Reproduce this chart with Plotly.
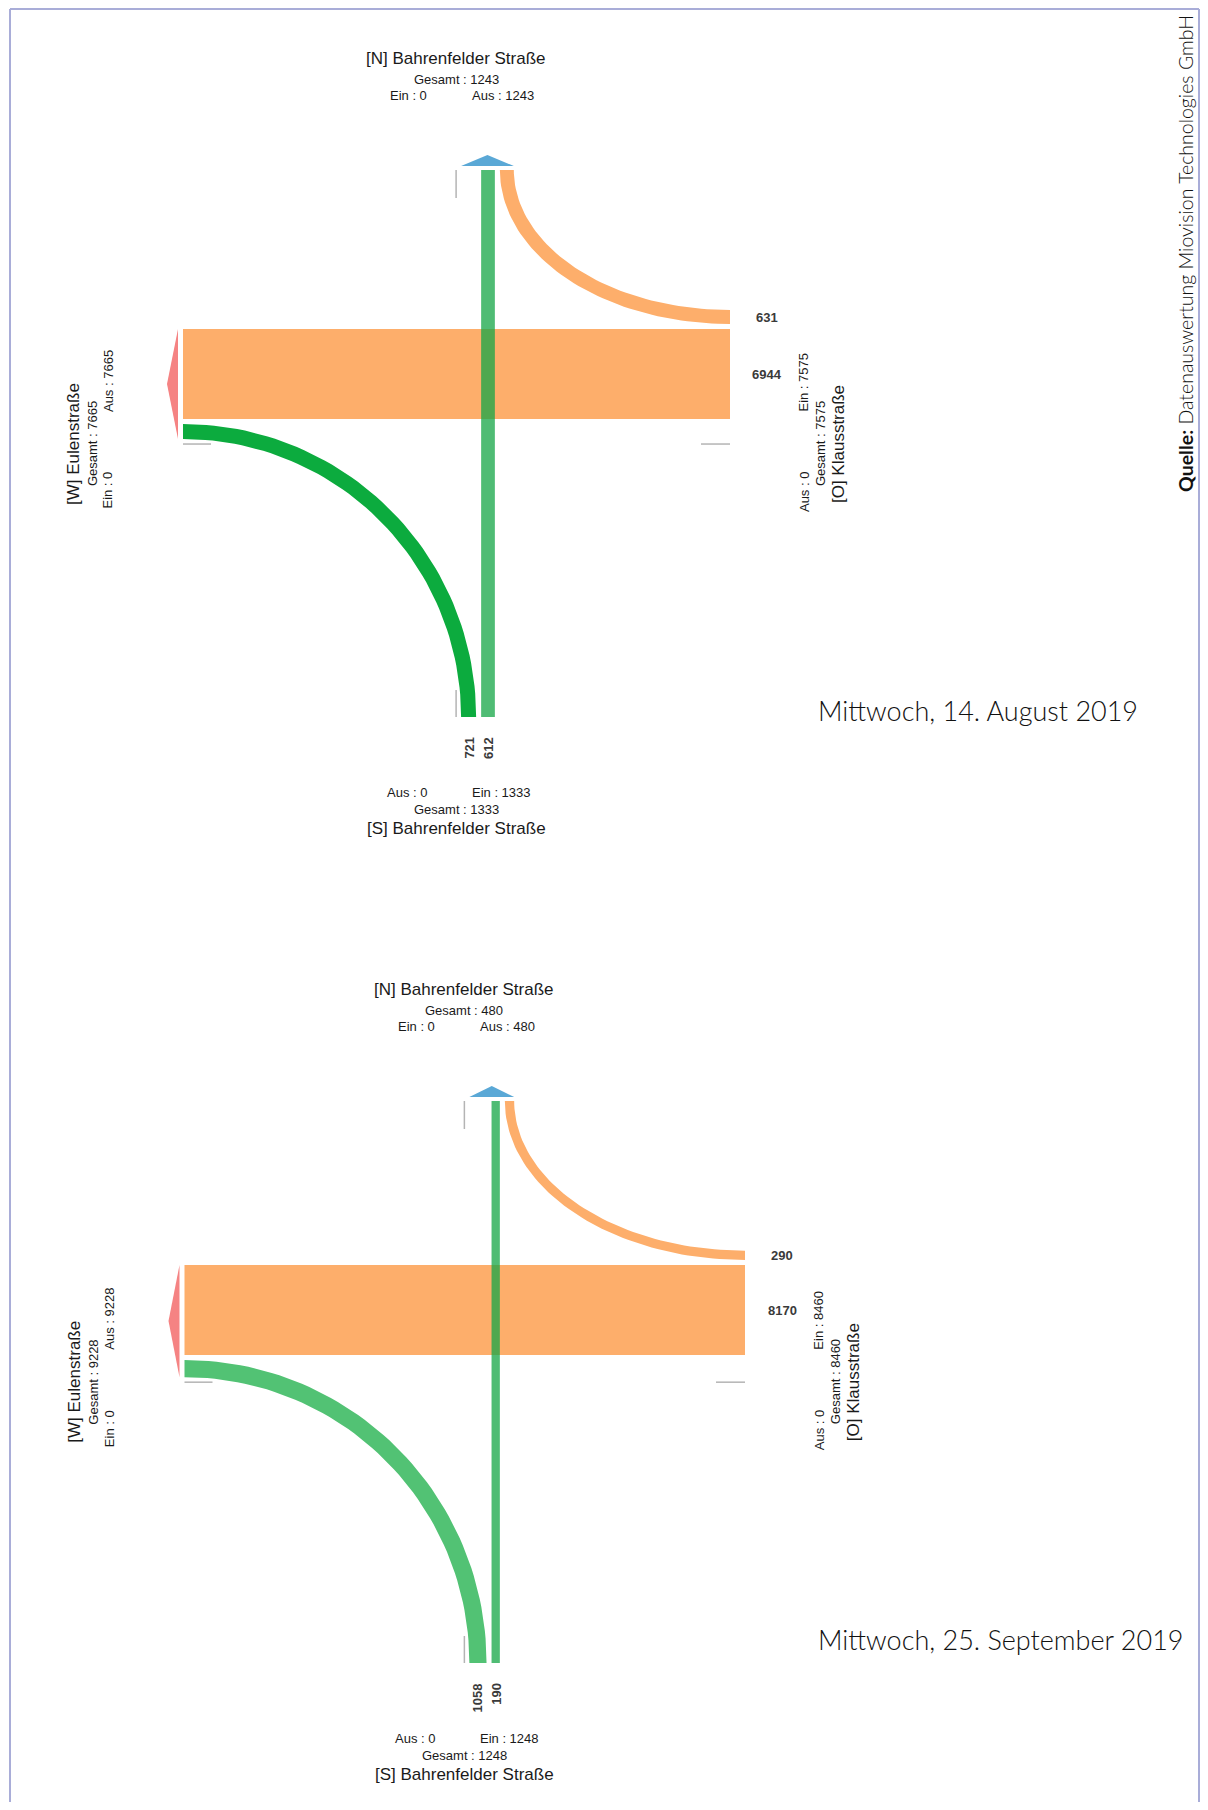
import numpy as np
import plotly.graph_objects as go

# ---------------- data ----------------
dates = ["Mittwoch, 14. August 2019", "Mittwoch, 25. September 2019"]
name_N = "[N] Bahrenfelder Straße"
name_O = "[O] Klausstraße"
name_S = "[S] Bahrenfelder Straße"
name_W = "[W] Eulenstraße"

# turning / straight flows (vehicles)
flow_O_to_W = [6944, 8170]
flow_O_to_N = [631, 290]
flow_S_to_W = [721, 1058]
flow_S_to_N = [612, 190]

# arm totals
ein_N = [0, 0]
aus_N = [1243, 480]
ein_O = [7575, 8460]
aus_O = [0, 0]
ein_S = [1333, 1248]
aus_S = [0, 0]
ein_W = [0, 0]
aus_W = [7665, 9228]

source_text = "<b>Quelle:</b> Datenauswertung Miovision Technologies GmbH"

# ---------------- layout / style ----------------
PAGE_W, PAGE_H = 1208, 1810
BODY_MARGIN = 8          # default page margin of the html body (both sides)
panels = [
    dict(W=183, E=730, N=170, S=717, xv=488, yh=374, date_y=710,
         green_curve="#0cab3e"),
    dict(W=184.5, E=745, N=1101, S=1663, xv=495.7, yh=1310, date_y=1639,
         green_curve="#52c274"),
]
GAP = 5.0
WMIN, WMAX = 6.35, 90.0
ORANGE = "#fdae6b"
GREEN = "rgba(20,165,70,0.75)"
RED = "#f58383"
BLUE = "#5aa8d6"
GRAY = "#b4b4b4"
LABEL_FONT = "Liberation Sans, Arial, sans-serif"
DATE_FONT = "Lato, Noto Sans, sans-serif"
TXT = "#1a1a1a"

fig = go.Figure()
ann = []


def width_scale(v, vmax):
    return WMIN + (WMAX - WMIN) * v / vmax


def poly(xs, ys, color, opacity=1.0):
    fig.add_trace(go.Scatter(x=list(xs), y=list(ys), mode="lines", fill="toself",
                             fillcolor=color, line=dict(width=0), opacity=opacity,
                             hoverinfo="skip", showlegend=False))


def seg(x0, y0, x1, y1):
    fig.add_trace(go.Scatter(x=[x0, x1], y=[y0, y1], mode="lines",
                             line=dict(color=GRAY, width=1.5),
                             hoverinfo="skip", showlegend=False))


def text(x, y, s, size=13, angle=0, xa="center", ya="middle", color=TXT,
         family=LABEL_FONT, weight="normal"):
    ann.append(dict(x=x, y=y, xref="x", yref="y", text=s, showarrow=False,
                    textangle=angle, xanchor=xa, yanchor=ya,
                    font=dict(size=size, color=color, family=family, weight=weight)))


t = np.linspace(0, np.pi / 2, 60)

for i, p in enumerate(panels):
    W, E, N, S, xv, yh = p["W"], p["E"], p["N"], p["S"], p["xv"], p["yh"]
    vmax = max(flow_O_to_W[i], flow_O_to_N[i], flow_S_to_W[i], flow_S_to_N[i])
    w_ow = width_scale(flow_O_to_W[i], vmax)
    w_on = width_scale(flow_O_to_N[i], vmax)
    w_sw = width_scale(flow_S_to_W[i], vmax)
    w_sn = width_scale(flow_S_to_N[i], vmax)

    # band edges
    ow_top, ow_bot = yh - w_ow / 2, yh + w_ow / 2
    sn_l, sn_r = xv - w_sn / 2, xv + w_sn / 2
    on_n_l, on_n_r = sn_r + GAP, sn_r + GAP + w_on          # O->N at north arm
    on_e_b, on_e_t = ow_top - GAP, ow_top - GAP - w_on      # O->N at east arm
    sw_s_r, sw_s_l = sn_l - GAP, sn_l - GAP - w_sw          # S->W at south arm
    sw_w_t, sw_w_b = ow_bot + GAP, ow_bot + GAP + w_sw      # S->W at west arm
    mark_y = sw_w_b + GAP
    mark_x = sw_s_l - GAP

    # O -> W straight (orange)
    poly([W, E, E, W], [ow_top, ow_top, ow_bot, ow_bot], ORANGE)

    # S -> W curve (green), centred at south-west corner
    xo = W + (sw_s_r - W) * np.cos(t); yo = S - (S - sw_w_t) * np.sin(t)
    xi = W + (sw_s_l - W) * np.cos(t[::-1]); yi = S - (S - sw_w_b) * np.sin(t[::-1])
    poly(np.r_[xo, xi], np.r_[yo, yi], p["green_curve"])

    # O -> N curve (orange), centred at north-east corner
    xo = E - (E - on_n_l) * np.cos(t); yo = N + (on_e_b - N) * np.sin(t)
    xi = E - (E - on_n_r) * np.cos(t[::-1]); yi = N + (on_e_t - N) * np.sin(t[::-1])
    poly(np.r_[xo, xi], np.r_[yo, yi], ORANGE)

    # S -> N straight (green, translucent)
    poly([sn_l, sn_r, sn_r, sn_l], [N, N, S, S], GREEN)

    # gray zero-lane markers
    seg(W, mark_y, W + 28, mark_y)
    seg(E - 29, mark_y, E, mark_y)
    seg(mark_x, N, mark_x, N + 28)
    seg(mark_x, S - 27, mark_x, S)

    # exit arrows
    xl, xr = mark_x + GAP, on_n_r
    poly([xl, xr, (xl + xr) / 2], [N - 4, N - 4, N - 15], BLUE)
    yt, yb = ow_top, mark_y - GAP
    poly([W - 5, W - 5, W - 16], [yt, yb, (yt + yb) / 2], RED)

    # value labels
    vc = "#3a3a3a"
    text(E + 37, (on_e_t + on_e_b) / 2, str(flow_O_to_N[i]), color=vc, weight="bold")
    text(E + 37, yh, str(flow_O_to_W[i]), color=vc, weight="bold")
    text((sw_s_l + sw_s_r) / 2, S + 18, str(flow_S_to_W[i]), angle=-90, ya="top",
         color=vc, weight="bold")
    text(xv, S + 18, str(flow_S_to_N[i]), angle=-90, ya="top", color=vc, weight="bold")

    # North labels
    text(mark_x, N - 112, name_N, size=17)
    text(mark_x, N - 91, f"Gesamt : {ein_N[i] + aus_N[i]}")
    text(mark_x - 27, N - 75, f"Ein : {ein_N[i]}", xa="right")
    text(mark_x + 14, N - 75, f"Aus : {aus_N[i]}", xa="left")
    # South labels
    text(mark_x - 27, S + 75, f"Aus : {aus_S[i]}", xa="right")
    text(mark_x + 14, S + 75, f"Ein : {ein_S[i]}", xa="left")
    text(mark_x, S + 92, f"Gesamt : {ein_S[i] + aus_S[i]}")
    text(mark_x, S + 111, name_S, size=17)
    # West labels
    text(W - 110, mark_y, name_W, size=17, angle=-90)
    text(W - 91, mark_y, f"Gesamt : {ein_W[i] + aus_W[i]}", angle=-90)
    text(W - 75, mark_y + 26, f"Ein : {ein_W[i]}", angle=-90, ya="top")
    text(W - 75, mark_y - 30, f"Aus : {aus_W[i]}", angle=-90, ya="bottom")
    # East labels
    text(E + 74, mark_y - 30, f"Ein : {ein_O[i]}", angle=-90, ya="bottom")
    text(E + 74, mark_y + 26, f"Aus : {aus_O[i]}", angle=-90, ya="top")
    text(E + 90, mark_y, f"Gesamt : {ein_O[i] + aus_O[i]}", angle=-90)
    text(E + 108, mark_y, name_O, size=17, angle=-90)

    # date
    text(816, p["date_y"], dates[i], size=27, xa="left", family=DATE_FONT,
         color="#111111", weight=300)

# source
text(1185, 254, source_text, size=19.5, angle=-90, family=DATE_FONT, color="#111111",
     weight=300)

X_MAX = PAGE_W - BODY_MARGIN
Y_MAX = PAGE_H - BODY_MARGIN
border = dict(color="#a9add8", width=2)
fig.update_layout(
    width=X_MAX - BODY_MARGIN, height=Y_MAX - BODY_MARGIN,
    margin=dict(l=0, r=0, t=0, b=0),
    paper_bgcolor="white", plot_bgcolor="white",
    xaxis=dict(range=[BODY_MARGIN, X_MAX], visible=False, fixedrange=True),
    yaxis=dict(range=[Y_MAX, BODY_MARGIN], visible=False, fixedrange=True),
    annotations=ann,
    shapes=[
        dict(type="line", xref="x", yref="y", x0=10, y0=9, x1=1199, y1=9, line=border),
        dict(type="line", xref="x", yref="y", x0=10, y0=9, x1=10, y1=Y_MAX, line=border),
        dict(type="line", xref="x", yref="y", x0=1199, y0=9, x1=1199, y1=Y_MAX, line=border),
    ],
    showlegend=False,
)

fig.write_html("out.html")
